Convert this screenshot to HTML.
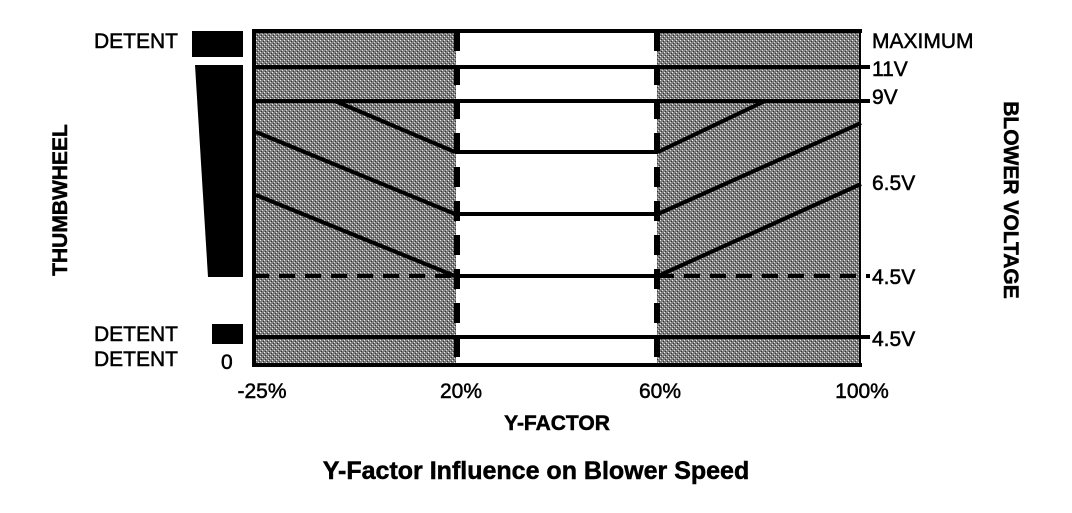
<!DOCTYPE html>
<html><head><style>
body{margin:0;background:#fff;width:1072px;height:508px;overflow:hidden}
text{font-family:"Liberation Sans",Arial,sans-serif;fill:#000;stroke:#000;stroke-width:0.5}
</style></head><body>
<svg width="1072" height="508" viewBox="0 0 1072 508">
<defs>
<pattern id="d" width="4" height="4" patternUnits="userSpaceOnUse">
<rect width="4" height="4" fill="#7e7e7e"/>
<rect x="0" y="0" width="1" height="1" fill="#eee"/>
<rect x="2" y="2" width="1" height="1" fill="#ddd"/>
<rect x="1" y="3" width="1" height="1" fill="#333"/>
<rect x="3" y="1" width="1" height="1" fill="#333"/>
</pattern>
</defs>
<rect x="256" y="31" width="200" height="333" fill="url(#d)"/>
<rect x="657" y="31" width="204" height="333" fill="url(#d)"/>
<g stroke="#000" stroke-width="4" fill="none">
<line x1="253" y1="31" x2="862" y2="31"/>
<line x1="253" y1="365" x2="862" y2="365"/>
<line x1="254" y1="29" x2="254" y2="367"/>
<line x1="860" y1="29" x2="860" y2="367" stroke-width="2"/>
<line x1="253" y1="67" x2="870" y2="67"/>
<line x1="253" y1="101" x2="870" y2="101"/>
<line x1="253" y1="337" x2="870" y2="337"/>
<line x1="455" y1="152" x2="658" y2="152"/>
<line x1="455" y1="214" x2="658" y2="214"/>
<line x1="455" y1="276" x2="658" y2="276"/>
<line x1="253" y1="276" x2="455" y2="276" stroke-dasharray="16,10"/>
<line x1="658" y1="276" x2="870" y2="276" stroke-dasharray="16,10"/>
<line x1="335" y1="101" x2="455" y2="152"/>
<line x1="256" y1="132" x2="455" y2="214"/>
<line x1="256" y1="195" x2="455" y2="276"/>
<line x1="658" y1="152" x2="765" y2="101"/>
<line x1="658" y1="214" x2="861" y2="123"/>
<line x1="658" y1="276" x2="861" y2="184"/>
<line x1="457" y1="31" x2="457" y2="365" stroke-width="6" stroke-dasharray="20,14"/>
<line x1="657" y1="31" x2="657" y2="365" stroke-width="6" stroke-dasharray="20,14"/>
</g>
<rect x="192" y="31" width="51" height="26" fill="#000"/>
<polygon points="195,65 243,65 243,277 208,277" fill="#000"/>
<rect x="212" y="324" width="31" height="20" fill="#000"/>
<g font-size="21">
<text x="178" y="48" text-anchor="end">DETENT</text>
<text x="178" y="341" text-anchor="end">DETENT</text>
<text x="178" y="366" text-anchor="end">DETENT</text>
<text x="221" y="369">0</text>
<text x="872" y="48">MAXIMUM</text>
<text x="872" y="76">11V</text>
<text x="872" y="104">9V</text>
<text x="872" y="190">6.5V</text>
<text x="872" y="284">4.5V</text>
<text x="872" y="346">4.5V</text>
<text x="262" y="398" text-anchor="middle">-25%</text>
<text x="461" y="398" text-anchor="middle">20%</text>
<text x="660" y="398" text-anchor="middle">60%</text>
<text x="862" y="398" text-anchor="middle">100%</text>
</g>
<text x="557" y="430" font-size="21" font-weight="bold" text-anchor="middle">Y-FACTOR</text>
<text x="536" y="479" font-size="25" font-weight="bold" text-anchor="middle">Y-Factor Influence on Blower Speed</text>
<text transform="translate(67,200) rotate(-90)" font-size="21" font-weight="bold" text-anchor="middle">THUMBWHEEL</text>
<text transform="translate(1004,200) rotate(90)" font-size="21" font-weight="bold" text-anchor="middle">BLOWER VOLTAGE</text>
</svg>
</body></html>
